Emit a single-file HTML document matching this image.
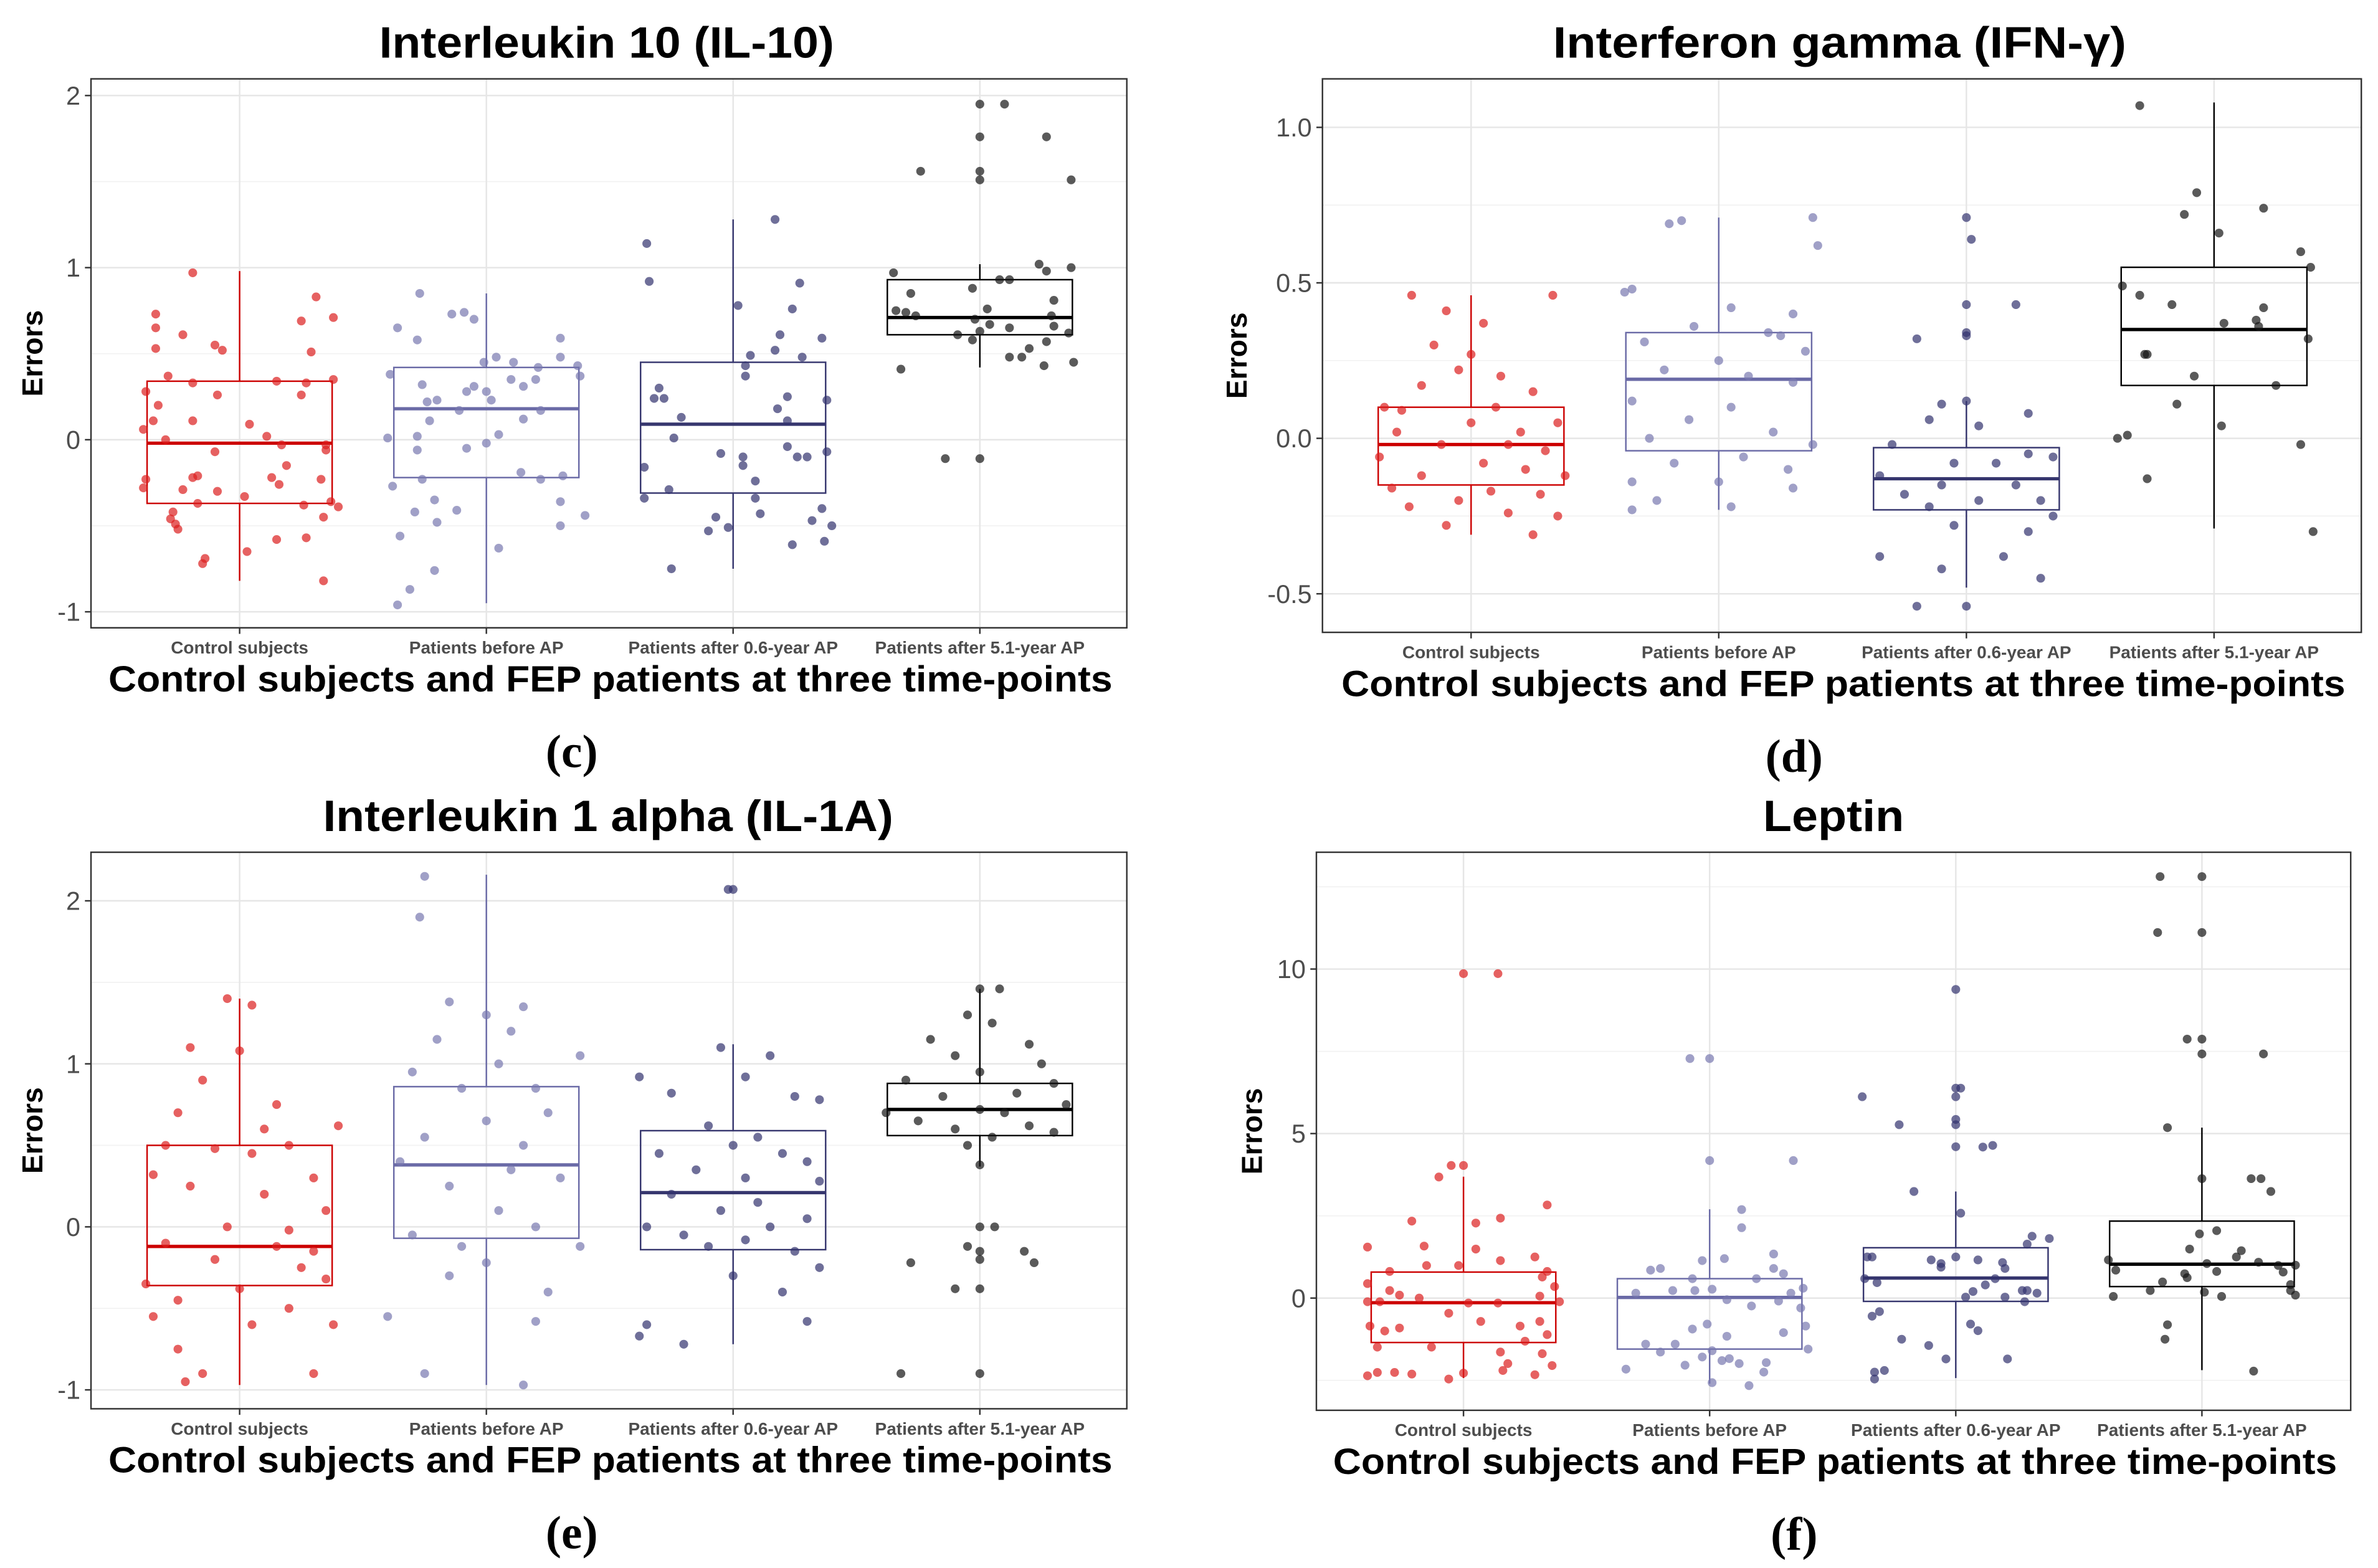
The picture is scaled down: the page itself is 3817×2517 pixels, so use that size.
<!DOCTYPE html>
<html><head><meta charset="utf-8"><style>
html,body{margin:0;padding:0;background:#fff;}
svg{display:block;}
</style></head><body>
<svg id="fig" xmlns="http://www.w3.org/2000/svg" width="3817" height="2517" viewBox="0 0 1568 1034" preserveAspectRatio="none"></svg>
<script>
const categories = ["Control subjects","Patients before AP","Patients after 0.6-year AP","Patients after 5.1-year AP"];
// box stats: [whiskerLow, q1, median, q3, whiskerHigh]
const cBoxes = [[-0.82,-0.37,-0.02,0.34,0.98],[-0.95,-0.22,0.18,0.42,0.85],[-0.75,-0.31,0.09,0.45,1.28],[0.42,0.61,0.71,0.93,1.02]];
const dBoxes = [[-0.31,-0.15,-0.02,0.10,0.46],[-0.23,-0.04,0.19,0.34,0.71],[-0.48,-0.23,-0.13,-0.03,0.12],[-0.29,0.17,0.35,0.55,1.08]];
const eBoxes = [[-0.97,-0.36,-0.12,0.50,1.40],[-0.97,-0.07,0.38,0.86,2.16],[-0.72,-0.14,0.21,0.59,1.12],[0.37,0.56,0.72,0.88,1.46]];
const fBoxes = [[-2.43,-1.35,-0.14,0.79,3.69],[-2.6,-1.55,0.02,0.59,2.7],[-2.43,-0.1,0.61,1.53,3.24],[-2.19,0.35,1.03,2.34,5.18]];
// points: [jitter offset (category units), value]
const cPoints = [
[[-0.19,0.97],[0.31,0.83],[-0.34,0.73],[0.38,0.71],[-0.34,0.65],[0.25,0.69],[-0.23,0.61],[-0.1,0.55],[-0.07,0.52],[-0.34,0.53],[0.29,0.51],[-0.29,0.37],[-0.19,0.33],[0.15,0.34],[0.27,0.33],[0.38,0.35],[-0.09,0.26],[0.25,0.26],[-0.38,0.28],[-0.33,0.2],[-0.35,0.11],[-0.19,0.11],[0.04,0.09],[-0.39,0.06],[-0.3,0],[0.11,0.02],[0.17,-0.03],[0.35,-0.03],[-0.1,-0.07],[0.35,-0.06],[0.19,-0.15],[-0.38,-0.23],[-0.19,-0.22],[-0.17,-0.21],[0.13,-0.22],[0.16,-0.26],[0.33,-0.23],[-0.39,-0.28],[-0.23,-0.29],[-0.09,-0.3],[0.02,-0.33],[-0.17,-0.37],[0.26,-0.38],[0.37,-0.36],[0.4,-0.39],[-0.27,-0.42],[-0.28,-0.46],[-0.26,-0.49],[-0.25,-0.52],[0.34,-0.45],[0.15,-0.58],[0.27,-0.57],[0.03,-0.65],[-0.14,-0.69],[-0.15,-0.72],[0.34,-0.82]],
[[-0.27,0.85],[-0.14,0.73],[-0.09,0.74],[-0.05,0.7],[-0.36,0.65],[-0.28,0.58],[0.3,0.59],[-0.01,0.45],[0.04,0.48],[0.11,0.45],[0.21,0.42],[0.3,0.48],[0.37,0.43],[-0.39,0.38],[0.38,0.37],[0.1,0.35],[0.2,0.35],[-0.26,0.32],[0.15,0.31],[-0.08,0.28],[-0.05,0.31],[0,0.28],[-0.24,0.22],[-0.2,0.23],[0.02,0.23],[-0.11,0.17],[0.22,0.17],[-0.23,0.11],[0.15,0.12],[0.05,0.03],[-0.4,0.01],[-0.28,0.02],[-0.28,-0.06],[-0.08,-0.05],[0,-0.02],[0.14,-0.19],[0.31,-0.21],[0.22,-0.23],[-0.26,-0.23],[-0.38,-0.27],[-0.21,-0.35],[0.3,-0.36],[-0.12,-0.41],[-0.29,-0.42],[0.4,-0.44],[-0.2,-0.48],[0.3,-0.5],[-0.35,-0.56],[0.05,-0.63],[-0.21,-0.76],[-0.31,-0.87],[-0.36,-0.96]],
[[0.17,1.28],[-0.35,1.14],[-0.34,0.92],[0.27,0.91],[0.02,0.78],[0.24,0.76],[0.19,0.61],[0.36,0.59],[0.17,0.52],[0.07,0.49],[0.28,0.48],[0.05,0.43],[0.05,0.37],[-0.3,0.3],[-0.32,0.24],[-0.28,0.24],[0.22,0.25],[0.38,0.23],[0.18,0.18],[-0.21,0.13],[0.22,0.11],[-0.24,0.01],[0.22,-0.04],[0.38,-0.07],[0.26,-0.1],[0.3,-0.1],[-0.05,-0.08],[0.04,-0.1],[0.04,-0.15],[-0.36,-0.16],[0.09,-0.24],[-0.26,-0.29],[-0.36,-0.34],[0.09,-0.34],[0.11,-0.43],[0.36,-0.4],[-0.07,-0.45],[0.32,-0.47],[0.4,-0.5],[-0.02,-0.51],[-0.1,-0.53],[0.24,-0.61],[0.37,-0.59],[-0.25,-0.75]],
[[0,1.95],[0.1,1.95],[0,1.76],[0.27,1.76],[-0.24,1.56],[0,1.56],[0,1.51],[0.37,1.51],[0.24,1.02],[0.37,1.0],[0.27,0.98],[-0.35,0.97],[0.08,0.93],[0.12,0.93],[-0.03,0.88],[-0.28,0.85],[0.3,0.81],[0.03,0.76],[-0.34,0.75],[-0.3,0.74],[-0.26,0.72],[0.29,0.72],[-0.02,0.7],[0.04,0.67],[0.12,0.65],[0.3,0.66],[0,0.63],[-0.09,0.61],[0.36,0.62],[-0.03,0.58],[0.27,0.57],[0.2,0.53],[0.12,0.48],[0.17,0.48],[0.26,0.43],[0.38,0.45],[-0.32,0.41],[-0.14,-0.11],[0,-0.11]]
];
const dPoints = [
[[-0.24,0.46],[0.33,0.46],[-0.1,0.41],[0.05,0.37],[-0.15,0.3],[0,0.27],[-0.05,0.22],[0.12,0.2],[-0.2,0.17],[0.25,0.15],[-0.35,0.1],[-0.28,0.09],[0.1,0.1],[0.35,0.05],[-0.3,0.02],[0,0.05],[0.2,0.02],[-0.12,-0.02],[0.15,-0.02],[0.3,-0.04],[-0.37,-0.06],[0.05,-0.08],[-0.2,-0.12],[0.22,-0.1],[0.38,-0.12],[-0.32,-0.16],[0.08,-0.17],[-0.05,-0.2],[0.28,-0.18],[-0.25,-0.22],[0.15,-0.24],[0.35,-0.25],[-0.1,-0.28],[0.25,-0.31]],
[[-0.15,0.70],[-0.2,0.69],[0.38,0.71],[0.4,0.62],[-0.38,0.47],[-0.35,0.48],[0.05,0.42],[0.3,0.4],[-0.1,0.36],[0.2,0.34],[0.25,0.33],[-0.3,0.31],[0.35,0.28],[0,0.25],[-0.22,0.22],[0.12,0.2],[0.3,0.18],[-0.35,0.12],[0.05,0.1],[-0.12,0.06],[0.22,0.02],[-0.28,0],[0.38,-0.02],[0.1,-0.06],[-0.18,-0.08],[0.28,-0.1],[-0.35,-0.14],[0,-0.14],[0.3,-0.16],[-0.25,-0.2],[-0.35,-0.23],[0.05,-0.22]],
[[0,0.71],[0.02,0.64],[0,0.43],[0.2,0.43],[0,0.34],[0,0.33],[-0.2,0.32],[0,0.12],[-0.1,0.11],[0.25,0.08],[-0.15,0.06],[0.05,0.04],[-0.3,-0.02],[0.25,-0.05],[-0.05,-0.08],[0.12,-0.08],[0.35,-0.06],[-0.35,-0.12],[-0.1,-0.15],[0.2,-0.15],[-0.25,-0.18],[0.3,-0.2],[0.05,-0.2],[-0.15,-0.22],[0.35,-0.25],[-0.05,-0.28],[0.25,-0.3],[-0.35,-0.38],[0.15,-0.38],[-0.1,-0.42],[0.3,-0.45],[0,-0.54],[-0.2,-0.54]],
[[-0.3,1.07],[-0.07,0.79],[-0.12,0.72],[0.2,0.74],[0.02,0.66],[-0.37,0.49],[-0.3,0.46],[0.35,0.6],[0.39,0.55],[-0.17,0.43],[0.2,0.42],[0.17,0.38],[0.18,0.36],[0.04,0.37],[0.38,0.32],[-0.28,0.27],[-0.27,0.27],[-0.08,0.2],[0.25,0.17],[-0.15,0.11],[-0.39,0],[-0.35,0.01],[0.35,-0.02],[-0.27,-0.13],[0.4,-0.3],[0.03,0.04]]
];
const ePoints = [
[[-0.05,1.4],[0.05,1.36],[-0.2,1.1],[0,1.08],[-0.15,0.9],[0.15,0.75],[-0.25,0.7],[0.1,0.6],[0.4,0.62],[-0.3,0.5],[0.2,0.5],[-0.1,0.48],[0.05,0.45],[-0.35,0.32],[0.3,0.3],[-0.2,0.25],[0.1,0.2],[0.35,0.1],[-0.05,0],[0.2,-0.02],[-0.3,-0.1],[0.15,-0.12],[0.3,-0.15],[-0.1,-0.2],[0.25,-0.25],[-0.38,-0.35],[0.35,-0.32],[0,-0.38],[-0.25,-0.45],[0.2,-0.5],[-0.35,-0.55],[0.05,-0.6],[0.38,-0.6],[-0.25,-0.75],[-0.15,-0.9],[0.3,-0.9],[-0.22,-0.95]],
[[-0.25,2.15],[-0.27,1.9],[-0.15,1.38],[0,1.3],[0.15,1.35],[-0.2,1.15],[0.1,1.2],[0.38,1.05],[0.05,1.0],[-0.3,0.95],[0.2,0.85],[-0.1,0.85],[0.25,0.7],[0,0.65],[-0.25,0.55],[0.15,0.5],[-0.35,0.4],[0.1,0.35],[0.3,0.3],[-0.15,0.25],[0.05,0.1],[0.2,0],[-0.3,-0.05],[0.38,-0.12],[-0.1,-0.12],[0,-0.22],[-0.15,-0.3],[0.25,-0.4],[-0.4,-0.55],[0.2,-0.58],[-0.25,-0.9],[0.15,-0.97]],
[[0,2.07],[-0.02,2.07],[-0.05,1.1],[0.15,1.05],[-0.38,0.92],[0.05,0.92],[-0.25,0.82],[0.25,0.8],[0.35,0.78],[-0.1,0.62],[0.1,0.55],[0,0.5],[-0.3,0.45],[0.2,0.45],[0.3,0.4],[-0.15,0.35],[0.05,0.3],[0.35,0.28],[-0.25,0.2],[0.1,0.15],[-0.05,0.1],[0.3,0.05],[-0.35,0],[0.15,0],[-0.2,-0.05],[0.05,-0.08],[-0.1,-0.12],[0.25,-0.15],[0.35,-0.25],[0,-0.3],[0.2,-0.4],[-0.35,-0.6],[0.3,-0.58],[-0.38,-0.67],[-0.2,-0.72]],
[[0,1.46],[0.08,1.46],[-0.05,1.3],[0.05,1.25],[-0.2,1.15],[0.2,1.12],[-0.1,1.05],[0.25,1.0],[0,0.95],[-0.3,0.9],[0.3,0.88],[0.15,0.82],[-0.15,0.8],[0.35,0.75],[-0.38,0.7],[0,0.72],[0.1,0.7],[-0.25,0.65],[0.2,0.62],[-0.1,0.6],[0.3,0.58],[0.05,0.55],[-0.05,0.5],[0,0.38],[0,0],[0.06,0],[-0.05,-0.12],[0,-0.15],[0,-0.2],[0.18,-0.15],[0.22,-0.22],[-0.28,-0.22],[-0.1,-0.38],[0,-0.38],[-0.32,-0.9],[0,-0.9]]
];
const fPoints = [
[[0,9.86],[0.14,9.86],[0,4.03],[-0.05,4.03],[-0.1,3.68],[0.34,2.83],[-0.21,2.34],[0.15,2.43],[0.05,2.28],[-0.16,1.58],[-0.39,1.55],[0.05,1.49],[0.29,1.25],[0.15,1.14],[-0.15,0.99],[-0.02,0.99],[-0.3,0.81],[0.34,0.81],[0.32,0.64],[-0.39,0.44],[0.37,0.35],[-0.3,0.23],[-0.26,0.09],[-0.18,0],[0.31,0.06],[-0.39,-0.11],[-0.34,-0.11],[0.02,-0.15],[0.14,-0.15],[0.39,-0.11],[-0.06,-0.46],[0.07,-0.71],[0.31,-0.71],[-0.38,-0.85],[-0.26,-0.91],[-0.32,-1.0],[0.23,-0.85],[0.34,-1.11],[0.25,-1.31],[-0.35,-1.49],[-0.13,-1.49],[0.15,-1.64],[0.32,-1.69],[0.18,-1.99],[0.36,-2.05],[0.16,-2.2],[-0.39,-2.36],[-0.35,-2.26],[-0.28,-2.26],[-0.21,-2.31],[-0.06,-2.46],[0,-2.28],[0.29,-2.33]],
[[-0.08,7.28],[0,7.28],[0,4.18],[0.34,4.18],[0.13,2.69],[0.13,2.14],[0.26,1.34],[0.06,1.2],[-0.03,1.14],[0.26,0.9],[-0.24,0.85],[-0.2,0.9],[0.3,0.74],[-0.07,0.59],[0.19,0.59],[-0.15,0.23],[-0.06,0.23],[-0.3,0.15],[0.01,0.27],[0.38,0.3],[0.33,0.15],[0.07,-0.05],[0.28,-0.09],[0.17,-0.24],[0.37,-0.3],[0.39,-0.85],[-0.01,-0.79],[-0.07,-0.94],[0.3,-1.05],[0.07,-1.16],[-0.26,-1.4],[-0.14,-1.4],[-0.2,-1.64],[0.4,-1.55],[0.01,-1.6],[-0.03,-1.79],[0.05,-1.9],[0.08,-1.84],[0.12,-1.99],[0.23,-1.96],[-0.1,-2.04],[-0.34,-2.16],[0.22,-2.25],[0.01,-2.57],[0.16,-2.66]],
[[0,9.38],[0,6.38],[0.02,6.38],[0,6.12],[-0.38,6.12],[-0.23,5.27],[0,5.43],[0,5.27],[0,4.6],[0.11,4.59],[0.15,4.64],[-0.17,3.24],[0.02,2.58],[0.38,1.81],[0.31,1.88],[0.29,1.64],[-0.34,1.25],[-0.36,1.25],[-0.1,1.16],[0.09,1.16],[0,1.25],[-0.06,1.05],[0.19,1.08],[0.2,0.9],[-0.06,0.94],[-0.37,0.59],[-0.32,0.47],[0.16,0.59],[0.12,0.4],[0.07,0.2],[0.27,0.23],[0.29,0.23],[0.33,0.15],[0.04,0.03],[0.2,0.03],[0.28,-0.11],[-0.31,-0.41],[-0.34,-0.55],[0.06,-0.79],[0.09,-0.99],[-0.22,-1.25],[-0.11,-1.44],[-0.04,-1.85],[0.21,-1.85],[-0.29,-2.2],[-0.33,-2.25],[-0.33,-2.46]],
[[-0.17,12.81],[0,12.81],[-0.18,11.11],[0,11.11],[-0.06,7.87],[0,7.87],[0,7.42],[0.25,7.42],[-0.14,5.18],[0,3.63],[0.2,3.63],[0.24,3.63],[0.28,3.24],[0.06,2.05],[-0.01,1.95],[-0.05,1.49],[0.16,1.44],[0.14,1.25],[-0.38,1.16],[0.23,1.09],[0.02,1.05],[0.31,0.99],[0.38,1.0],[-0.35,0.85],[0.06,0.81],[0.33,0.79],[-0.07,0.74],[-0.06,0.62],[-0.16,0.49],[0.36,0.41],[0.36,0.23],[-0.21,0.23],[0.01,0.18],[0.38,0.09],[-0.36,0.05],[0.08,0.05],[-0.14,-0.81],[-0.15,-1.25],[0.21,-2.22]]
];
const cTicks = [-1,0,1,2];
const dTicks = [-0.5,0.0,0.5,1.0];
const eTicks = [-1,0,1,2];
const fTicks = [0,5,10];
const cMinor = [-0.5,0.5,1.5];
const dMinor = [-0.25,0.25,0.75];
const eMinor = [-0.5,0.5,1.5];
const fMinor = [-2.5,2.5,7.5,12.5];

const NS = "http://www.w3.org/2000/svg";
const svg = document.getElementById('fig');
const boxCols = ["#cc0000","#6a6aa6","#36366e","#000000"];
const ptCols = ["rgba(220,30,30,0.7)","rgba(120,120,175,0.7)","rgba(50,50,110,0.7)","rgba(20,20,20,0.7)"];
function mk(tag, attrs, parent, text){
  const el = document.createElementNS(NS, tag);
  for (const k in attrs) el.setAttribute(k, attrs[k]);
  if (text !== undefined) el.textContent = text;
  (parent || svg).appendChild(el);
  return el;
}
function panel(p){
  const g = mk('g', {});
  
  
  const yS = v => p.y1 - (v - p.vmin) / (p.vmax - p.vmin) * (p.y1 - p.y0);
  const xS = (i, off) => p.cx0 + (i + (off || 0)) * p.step;
  p.minor.forEach(v => { mk('line', {x1:p.x0,x2:p.x1,y1:yS(v),y2:yS(v),stroke:'#f2f2f2','stroke-width':0.7}, g); });
  p.ticks.forEach(v => { const l = mk('line', {x1:p.x0,x2:p.x1,y1:yS(v),y2:yS(v),stroke:'#e6e6e6','stroke-width':1}, g);
      });
  categories.forEach((c,i) => { mk('line', {x1:xS(i),x2:xS(i),y1:p.y0,y2:p.y1,stroke:'#e6e6e6','stroke-width':1}, g); });
  p.boxes.forEach((b,i) => {
    const col = boxCols[i], cx = xS(i), hw = 0.375 * p.step;
    const bg = mk('g', {}, g);
    
    
    mk('line', {x1:cx,x2:cx,y1:yS(b[0]),y2:yS(b[1]),stroke:col,'stroke-width':1}, bg);
    mk('line', {x1:cx,x2:cx,y1:yS(b[3]),y2:yS(b[4]),stroke:col,'stroke-width':1}, bg);
    mk('rect', {x:cx-hw,y:yS(b[3]),width:2*hw,height:yS(b[1])-yS(b[3]),fill:'none',stroke:col,'stroke-width':1}, bg);
    mk('line', {x1:cx-hw,x2:cx+hw,y1:yS(b[2]),y2:yS(b[2]),stroke:col,'stroke-width':2.2}, bg);
  });
  p.points.forEach((arr,i) => {
    arr.forEach(pt => {
      const c = mk('circle', {cx:xS(i,pt[0]),cy:yS(pt[1]),r:2.9,fill:ptCols[i]}, g);
      
      
    });
  });
  mk('rect', {x:p.x0,y:p.y0,width:p.x1-p.x0,height:p.y1-p.y0,fill:'none',stroke:'#333','stroke-width':1}, g);
  p.ticks.forEach(v => {
    mk('line', {x1:p.x0-4,x2:p.x0,y1:yS(v),y2:yS(v),stroke:'#333','stroke-width':1}, g);
    const t = mk('text', {x:p.x0-7,y:yS(v)+6,'text-anchor':'end','font-family':'Liberation Sans Narrow, Liberation Sans, sans-serif','font-size':17,fill:'#4d4d4d'}, g, p.fmt(v));
     
  });
  categories.forEach((c,i) => {
    mk('line', {x1:xS(i),x2:xS(i),y1:p.y1,y2:p.y1+4,stroke:'#333','stroke-width':1}, g);
    const t = mk('text', {x:xS(i),y:p.y1+17,'text-anchor':'middle','font-family':'Liberation Sans, sans-serif','font-size':11.5,'font-weight':'bold',fill:'#4d4d4d'}, g, c);
     
  });
  const tt = mk('text', {x:p.tx,y:p.ty,'text-anchor':'middle','font-family':'Liberation Sans, sans-serif','font-size':29,'font-weight':'bold',fill:'#000',textLength:p.tw,lengthAdjust:'spacingAndGlyphs'}, g, p.title);
   
  const xt = mk('text', {x:(p.x0+p.x1)/2+1,y:p.y1+42,'text-anchor':'middle','font-family':'Liberation Sans, sans-serif','font-size':24,'font-weight':'bold',fill:'#000',textLength:662,lengthAdjust:'spacingAndGlyphs'}, g, 'Control subjects and FEP patients at three time-points');
   
  const yt = mk('text', {x:0,y:0,transform:'translate('+p.yx+','+((p.y0+p.y1)/2)+') rotate(-90)','text-anchor':'middle','font-family':'Liberation Sans, sans-serif','font-size':19,'font-weight':'bold',fill:'#000'}, g, 'Errors');
   
  const lb = mk('text', {x:p.lx,y:p.y1+92,'text-anchor':'middle','font-family':'Liberation Serif, serif','font-size':31,'font-weight':'bold',fill:'#000'}, g, p.label);
   
}
const f0 = v => String(v);
const f1 = v => v.toFixed(1);
panel({name:'panel-c-il10',title:'Interleukin 10 (IL-10)',tx:400,ty:38,tw:300,x0:60,x1:743,y0:52,y1:414,vmin:-1.093,vmax:2.097,cx0:158,step:162.7,ticks:cTicks,minor:cMinor,fmt:f0,boxes:cBoxes,points:cPoints,yx:28,label:'(c)',lx:377});
panel({name:'panel-d-ifng',title:'Interferon gamma (IFN-γ)',tx:1213,ty:38,tw:378,x0:872,x1:1557,y0:52,y1:417,vmin:-0.624,vmax:1.156,cx0:970,step:163.3,ticks:dTicks,minor:dMinor,fmt:f1,boxes:dBoxes,points:dPoints,yx:822,label:'(d)',lx:1183});
panel({name:'panel-e-il1a',title:'Interleukin 1 alpha (IL-1A)',tx:401,ty:548,tw:376,x0:60,x1:743,y0:562,y1:929,vmin:-1.116,vmax:2.298,cx0:158,step:162.7,ticks:eTicks,minor:eMinor,fmt:f0,boxes:eBoxes,points:ePoints,yx:28,label:'(e)',lx:377});
panel({name:'panel-f-leptin',title:'Leptin',tx:1209,ty:548,tw:93,x0:868,x1:1550,y0:562,y1:930,vmin:-3.41,vmax:13.55,cx0:965,step:162.3,ticks:fTicks,minor:fMinor,fmt:f0,boxes:fBoxes,points:fPoints,yx:832,label:'(f)',lx:1183});
</script>
</body></html>
